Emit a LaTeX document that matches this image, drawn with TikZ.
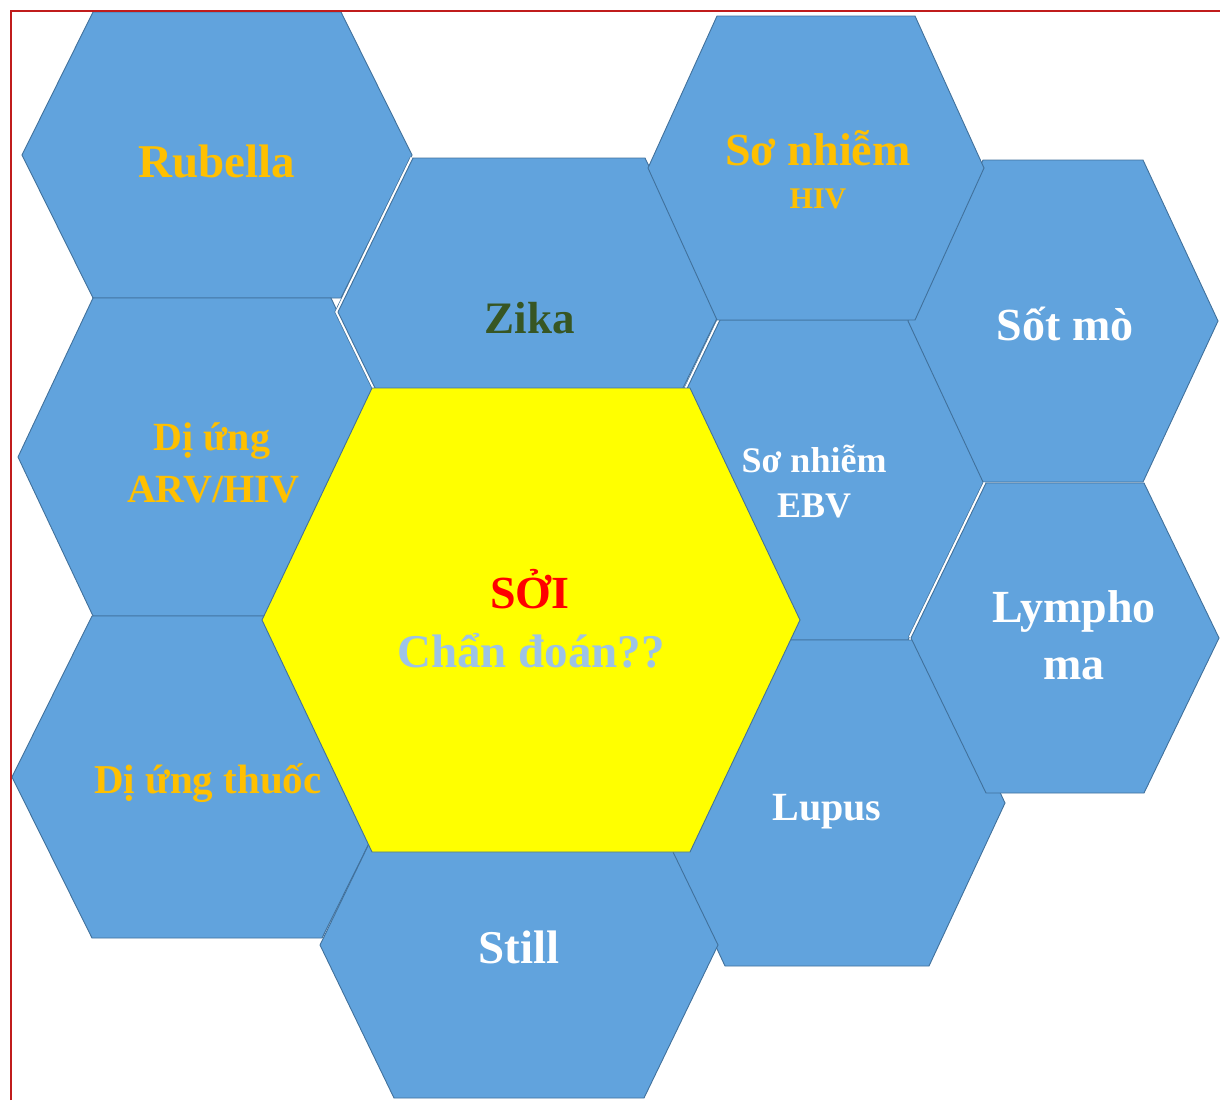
\documentclass[tikz,border=0pt]{standalone}
\usepackage{fontspec}
\setmainfont{Liberation Serif}
\usepackage{tikz}

\definecolor{cellblue}{RGB}{97,163,221}
\definecolor{celledge}{RGB}{65,113,156}
\definecolor{soiyellow}{RGB}{255,255,0}
\definecolor{gold}{RGB}{255,192,0}
\definecolor{zikagreen}{RGB}{55,86,35}
\definecolor{paleblue}{RGB}{157,195,230}
\definecolor{framered}{RGB}{192,28,28}

\tikzset{
  hexcell/.style={draw=celledge, fill=cellblue, line width=0.9pt},
  gapline/.style={draw=celledge, line width=0.7pt, double=white, double distance=5pt},
  txt/.style={font=\fontsize{#1}{#1}\selectfont\bfseries, anchor=base, inner sep=0pt},
}

% corners of a flat-topped cell: name, cx, cy, half width, half top, half height
\newcommand{\placecell}[6]{%
  \coordinate (#1) at (#2,#3);
  \coordinate (#1-tl) at (#2-#5,#3-#6);
  \coordinate (#1-tr) at (#2+#5,#3-#6);
  \coordinate (#1-r) at (#2+#4,#3);
  \coordinate (#1-br) at (#2+#5,#3+#6);
  \coordinate (#1-bl) at (#2-#5,#3+#6);
  \coordinate (#1-l) at (#2-#4,#3);
}
\newcommand{\drawcell}[2][]{%
  \filldraw[hexcell,#1] (#2-tl) -- (#2-tr) -- (#2-r) -- (#2-br) -- (#2-bl) -- (#2-l) -- cycle;
}

\begin{document}
\begin{tikzpicture}[x=1pt,y=-1pt]
  \useasboundingbox (0,0) rectangle (1220,1100);
  \clip (0,0) rectangle (1220,1100);

  \placecell{rub}{217}{155}{195}{124}{143}
  \placecell{arv}{212}{457}{194}{119}{159}
  \placecell{zika}{529}{312}{191}{116}{154}
  \placecell{hiv}{816}{168}{168}{99}{152}
  \placecell{ebv}{814}{480}{171}{94}{160}
  \placecell{sot}{1063}{321}{155}{80}{161}
  \placecell{lym}{1065}{638}{154}{79}{155}
  \placecell{lup}{827}{803}{178}{102}{163}
  \placecell{thu}{207}{777}{195}{115}{161}
  \placecell{still}{519}{945}{199}{125}{153}
  \placecell{soi}{531}{620}{269}{159}{232}

  \drawcell{rub}
  \drawcell{arv}
  \draw[gapline] (zika-tl) -- (zika-l) -- (zika-bl);
  \drawcell{zika}
  \draw[gapline] (ebv-l) -- (ebv-tl);
  \drawcell{ebv}
  \drawcell{sot}
  \drawcell{lup}
  \draw[gapline] (lym-tl) -- (lym-l);
  \drawcell{lym}
  \drawcell{hiv}
  \drawcell{thu}
  \drawcell{still}
  \drawcell[fill=soiyellow]{soi}

  \draw[framered, line width=2pt] (11,1100) -- (11,11) -- (1220,11);

  \node[txt=47, text=gold] (rub-txt) at (217,177) {Rubella};
  \node[txt=45, text=zikagreen] (zika-txt) at (530,333) {Zika};
  \node[txt=46, text=gold] (hiv-txt) at (818,165) {Sơ nhiễm};
  \node[txt=30, text=gold] (hiv-sub) at (818,208) {HIV};
  \node[txt=46, text=white] (sot-txt) at (1065,340) {Sốt mò};
  \node[txt=40, text=gold] (arv-txt) at (212,450) {Dị ứng};
  \node[txt=40, text=gold] (arv-sub) at (213,502) {ARV/HIV};
  \node[txt=36, text=white] (ebv-txt) at (814,472) {Sơ nhiễm};
  \node[txt=36, text=white] (ebv-sub) at (814,517) {EBV};
  \node[txt=46, text=red] (soi-txt) at (530,608) {SỞI};
  \node[txt=47, text=paleblue] (soi-sub) at (531,667) {Chẩn đoán??};
  \node[txt=46, text=white] (lym-txt) at (1074,622) {Lympho};
  \node[txt=46, text=white] (lym-sub) at (1074,679) {ma};
  \node[txt=41, text=gold] (thu-txt) at (208,793) {Dị ứng thuốc};
  \node[txt=40, text=white] (lup-txt) at (827,820) {Lupus};
  \node[txt=47, text=white] (still-txt) at (519,963) {Still};
\end{tikzpicture}
\end{document}
